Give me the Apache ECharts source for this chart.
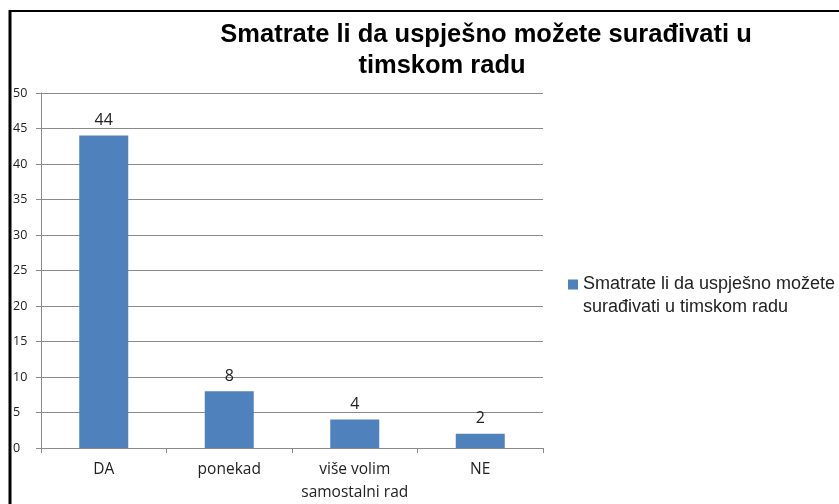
<!DOCTYPE html>
<html>
<head>
<meta charset="utf-8">
<script src="https://cdn.jsdelivr.net/npm/echarts@6/dist/echarts.min.js"></script>
<style>
  html, body { margin: 0; padding: 0; background: #fff; }
  #chart { width: 839px; height: 504px; }
</style>
</head>
<body>
<div id="chart"></div>
<script>
// Survey answers and counts
const titleLines = ['Smatrate li da uspješno možete surađivati u', 'timskom radu'];
const seriesName = 'Smatrate li da uspješno možete surađivati u timskom radu';
const legendLines = ['Smatrate li da uspješno možete', 'surađivati u timskom radu'];
const categories = ['DA', 'ponekad', 'više volim\nsamostalni rad', 'NE'];
const counts = [44, 8, 4, 2];
const yTicks = { min: 0, max: 50, interval: 5 };

const chart = echarts.init(document.getElementById('chart'), null, { renderer: 'canvas' });
const gridColor = '#8a8a8a';
const labelFont = '"Open Sans", "DejaVu Sans", sans-serif';
const titleFont = '"Liberation Sans", Arial, sans-serif';

chart.setOption({
  animation: false,
  backgroundColor: '#ffffff',
  title: [
    {
      text: titleLines[0],
      left: 486, top: 22, padding: 0,
      textAlign: 'center',
      textStyle: { fontFamily: titleFont, fontSize: 25.5, fontWeight: 'bold', color: '#000' }
    },
    {
      text: titleLines[1],
      left: 442, top: 53, padding: 0,
      textAlign: 'center',
      textStyle: { fontFamily: titleFont, fontSize: 25.5, fontWeight: 'bold', color: '#000' }
    }
  ],
  legend: {
    left: 568, top: 250, padding: 0,
    orient: 'vertical',
    icon: 'rect',
    itemWidth: 10, itemHeight: 10, itemGap: 4,
    data: [seriesName],
    // a blank first line keeps the icon level with the first text line
    formatter: function () {
      return ' \n' + legendLines.join('\n');
    },
    textStyle: {
      fontFamily: titleFont,
      fontSize: 18, color: '#222', lineHeight: 23
    }
  },
  grid: { left: 41, right: 296, top: 93, bottom: 56, containLabel: false },
  xAxis: {
    type: 'category',
    data: categories,
    boundaryGap: true,
    axisLine: { lineStyle: { color: gridColor, width: 1 } },
    axisTick: { show: true, length: 5, lineStyle: { color: gridColor } },
    axisLabel: {
      interval: 0, margin: 10,
      fontFamily: labelFont, fontSize: 15.5, color: '#222', lineHeight: 23
    }
  },
  yAxis: {
    type: 'value',
    min: yTicks.min, max: yTicks.max, interval: yTicks.interval,
    axisLine: { show: true, lineStyle: { color: gridColor, width: 1 } },
    axisTick: { show: true, length: 5, lineStyle: { color: gridColor } },
    splitLine: { show: true, lineStyle: { color: gridColor, width: 1 } },
    axisLabel: {
      align: 'left', margin: 28,
      fontFamily: labelFont, fontSize: 12.5, color: '#222'
    }
  },
  series: [{
    name: seriesName,
    type: 'bar',
    data: counts,
    barWidth: 49,
    itemStyle: { color: '#4F81BD' },
    label: {
      show: true, position: 'top', distance: 7,
      fontFamily: labelFont, fontSize: 16, color: '#222'
    }
  }],
  graphic: [
    // frame around the chart area
    { type: 'line', shape: { x1: 10, y1: 10, x2: 10, y2: 504 }, style: { stroke: '#000', lineWidth: 3 } },
    { type: 'line', shape: { x1: 9, y1: 11, x2: 839, y2: 11 }, style: { stroke: '#000', lineWidth: 2 } }
  ]
});
</script>
</body>
</html>
